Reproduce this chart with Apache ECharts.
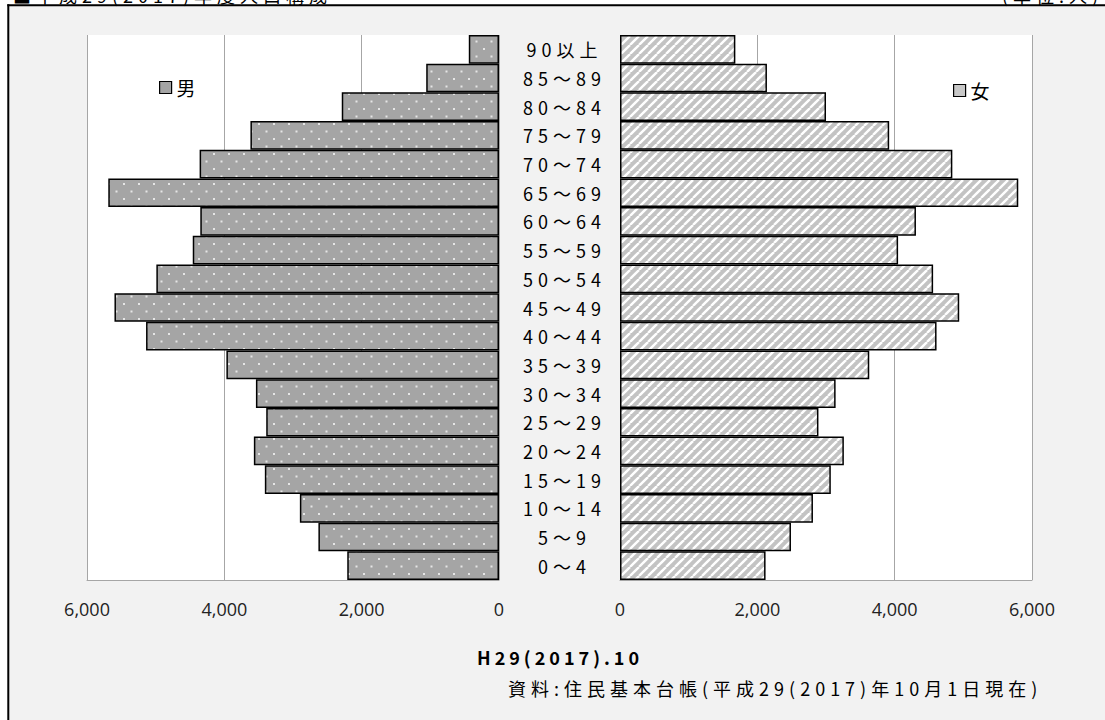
<!DOCTYPE html>
<html><head><meta charset="utf-8">
<script src="https://cdn.jsdelivr.net/npm/echarts@6/dist/echarts.min.js"></script>
<style>html,body{margin:0;padding:0;background:#fff}#chart{width:1105px;height:720px}</style>
</head><body><div id="chart"></div>
<script>
// ---- data (bottom to top) ----
const categories = ['0～4','5～9','10～14','15～19','20～24','25～29','30～34','35～39','40～44','45～49','50～54','55～59','60～64','65～69','70～74','75～79','80～84','85～89','90以上'];
const maleValues   = [2210,2630,2900,3410,3570,3390,3540,3970,5140,5600,4990,4460,4350,5690,4360,3620,2290,1060,440];
const femaleValues = [2120,2490,2810,3070,3260,2890,3140,3630,4610,4940,4560,4050,4310,5800,4840,3920,3000,2140,1680];
const xTickLabels = ['0','2,000','4,000','6,000'];
const seriesNames = ['男','女'];
const titleText = '■平成29(2017)年度人口構成';
const unitText = '(単位:人)';
const dateText = 'H29(2017).10';
const sourceText = '資料:住民基本台帳(平成29(2017)年10月1日現在)';

const GOTHIC = '"Noto Sans CJK JP",sans-serif';

function dotPattern(){
  const c=document.createElement('canvas'); c.width=15; c.height=15;
  const g=c.getContext('2d');
  g.fillStyle='#a5a5a5'; g.fillRect(0,0,15,15);
  g.fillStyle='#e6e6e6';
  g.fillRect(3,3,2,2); g.fillRect(10.5,10.5,2,2);
  return c;
}
function stripePattern(){
  const c=document.createElement('canvas'); c.width=9; c.height=9;
  const g=c.getContext('2d');
  g.fillStyle='#c3c3c3'; g.fillRect(0,0,9,9);
  g.strokeStyle='#ffffff'; g.lineWidth=2.4;
  for(const k of [-9,0,9]){ g.beginPath(); g.moveTo(k,9); g.lineTo(k+9,0); g.stroke(); }
  return c;
}

const chart = echarts.init(document.getElementById('chart'), null, {renderer:'svg'});
const gridLine = {color:'#a6a6a6', width:1};
const tickFmt = v => xTickLabels[Math.round(v/2000)];
const numLabel = {formatter:tickFmt, fontFamily:'"Open Sans"', fontSize:18, color:'#222', margin:20};

const option = {
  animation:false,
  backgroundColor:'#f2f2f2',
  grid:[
    {left:87, top:35, width:412, height:545, show:true, backgroundColor:'#fff', borderWidth:0},
    {left:620, top:35, width:412, height:545, show:true, backgroundColor:'#fff', borderWidth:0}
  ],
  xAxis:[
    {gridIndex:0, type:'value', min:0, max:6000, interval:2000, inverse:true,
     axisLine:{show:true, lineStyle:gridLine}, axisTick:{show:false},
     splitLine:{show:true, lineStyle:gridLine}, axisLabel:numLabel},
    {gridIndex:1, type:'value', min:0, max:6000, interval:2000,
     axisLine:{show:true, lineStyle:gridLine}, axisTick:{show:false},
     splitLine:{show:true, lineStyle:gridLine}, axisLabel:numLabel}
  ],
  yAxis:[
    {gridIndex:0, type:'category', data:categories, position:'right',
     axisLine:{show:false}, axisTick:{show:false}, splitLine:{show:false},
     axisLabel:{align:'center', margin:65.5, fontSize:18, color:'#000', fontFamily:GOTHIC}},
    {gridIndex:1, type:'category', data:categories,
     axisLine:{show:false}, axisTick:{show:false}, splitLine:{show:false}, axisLabel:{show:false}}
  ],
  legend:[
    {left:159, top:78, padding:0, itemWidth:12, itemHeight:12, selectedMode:false,
     textStyle:{fontSize:19, color:'#000', fontFamily:GOTHIC},
     data:[{name:seriesNames[0], icon:'rect', itemStyle:{color:'#a5a5a5', borderColor:'#000', borderWidth:1.2}}]},
    {left:953, top:81, padding:0, itemWidth:12, itemHeight:12, selectedMode:false,
     textStyle:{fontSize:19, color:'#000', fontFamily:GOTHIC},
     data:[{name:seriesNames[1], icon:'rect', itemStyle:{color:'#c8c8c8', borderColor:'#000', borderWidth:1.2}}]}
  ],
  series:[
    {type:'bar', name:seriesNames[0], xAxisIndex:0, yAxisIndex:0, data:maleValues, barCategoryGap:'0%', silent:true,
     itemStyle:{color:{image:dotPattern(), repeat:'repeat'}, borderColor:'#000', borderWidth:1.5}},
    {type:'bar', name:seriesNames[1], xAxisIndex:1, yAxisIndex:1, data:femaleValues, barCategoryGap:'0%', silent:true,
     itemStyle:{color:{image:stripePattern(), repeat:'repeat'}, borderColor:'#000', borderWidth:1.5}}
  ],
  graphic:[
    {type:'rect', shape:{x:0,y:0,width:1105,height:4.3}, style:{fill:'#fff'}, z:100, silent:true},
    {type:'rect', shape:{x:0,y:0,width:7.3,height:720}, style:{fill:'#fff'}, z:100, silent:true},
    {type:'rect', shape:{x:7.3,y:4.3,width:2,height:716}, style:{fill:'#000'}, z:101, silent:true},
    {type:'rect', shape:{x:7.3,y:4.3,width:1098,height:2}, style:{fill:'#000'}, z:101, silent:true},
    {type:'text', z:102, silent:true, style:{text:titleText, x:13, y:-4.7, fill:'#000', fontSize:18, fontFamily:GOTHIC, align:'left', verticalAlign:'middle', textAlign:'left', textVerticalAlign:'middle'}},
    {type:'text', z:102, silent:true, style:{text:unitText, x:1002, y:-4.7, fill:'#000', fontSize:18, fontFamily:GOTHIC, align:'left', verticalAlign:'middle', textAlign:'left', textVerticalAlign:'middle'}},
    {type:'text', z:102, silent:true, style:{text:dateText, x:477, y:657, fill:'#000', fontSize:18, fontWeight:'bold', fontFamily:GOTHIC, align:'left', verticalAlign:'middle', textAlign:'left', textVerticalAlign:'middle'}},
    {type:'text', z:102, silent:true, style:{text:sourceText, x:508, y:688, fill:'#000', fontSize:18, fontFamily:GOTHIC, align:'left', verticalAlign:'middle', textAlign:'left', textVerticalAlign:'middle'}}
  ]
};
chart.setOption(option);

function applySpacing(){
  document.querySelectorAll('#chart svg text').forEach(t=>{
    const s=(t.textContent||'').trim();
    if(/^[\d,]+$/.test(s)) return;
    t.style.letterSpacing = (s===dateText) ? '4px' : '5px';
  });
}
applySpacing();
chart.on('finished', applySpacing);
setTimeout(applySpacing, 30);
setTimeout(applySpacing, 300);
</script>
</body></html>
